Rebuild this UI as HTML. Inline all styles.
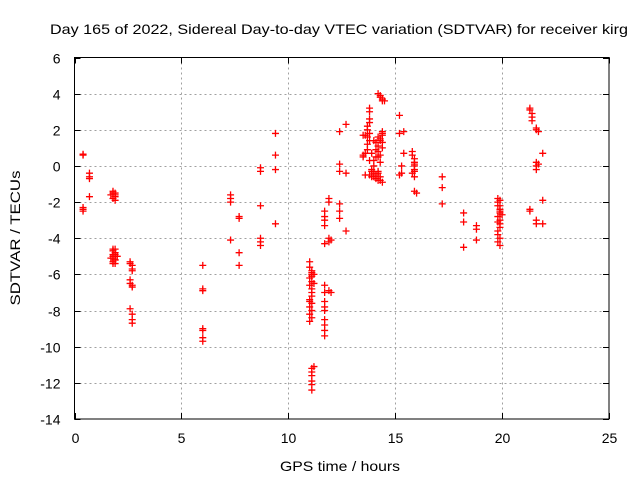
<!DOCTYPE html>
<html><head><meta charset="utf-8"><style>
body{margin:0;background:#fff;}
text{font-family:"Liberation Sans",sans-serif;font-size:14px;fill:#000;}
</style></head><body>
<svg id="chart" width="640" height="480" viewBox="0 0 640 480" xmlns="http://www.w3.org/2000/svg">
<rect width="640" height="480" fill="#fff"/>
<text x="339" y="34" text-anchor="middle" font-size="16.5" textLength="578" lengthAdjust="spacingAndGlyphs">Day 165 of 2022, Sidereal Day-to-day VTEC variation (SDTVAR) for receiver kirg</text>
<g id="grid"></g>
<g id="ticks"></g>
<g id="points"></g>
<rect x="74.5" y="57.5" width="534.5" height="361.5" fill="none" stroke="#000" stroke-width="1"/>
<text x="340" y="471" text-anchor="middle" font-size="16.5" textLength="120" lengthAdjust="spacingAndGlyphs">GPS time / hours</text>
<text x="20" y="238" text-anchor="middle" font-size="16.5" textLength="135" lengthAdjust="spacingAndGlyphs" transform="rotate(-90 20 238)">SDTVAR / TECUs</text>
</svg>
<script>
const xTicks=[0,5,10,15,20,25];
const yTicks=[6,4,2,0,-2,-4,-6,-8,-10,-12,-14];
const hours=[0.4,0.4,0.4,0.4,0.4,0.7,0.7,0.7,0.7,
1.8,1.8,1.9,1.9,1.8,1.9,1.7,1.9,1.8,1.8,1.9,1.8,1.9,1.8,1.9,1.8,1.9,1.8,1.9,1.8,1.9,1.8,1.9,1.7,2.0,
2.6,2.6,2.7,2.7,2.7,2.6,2.6,2.7,2.7,2.6,2.7,2.7,2.7,
6.0,6.0,6.0,6.0,6.0,6.0,6.0,
7.3,7.3,7.3,7.3,7.7,7.7,7.7,7.7,
8.7,8.7,8.7,8.7,8.7,8.7,9.4,9.4,9.4,9.4,
11.0,11.0,11.1,11.1,11.0,11.1,11.0,11.1,11.2,11.1,11.2,11.1,11.0,11.1,11.0,11.1,11.0,11.1,11.0,11.1,11.1,11.0,
11.1,11.1,11.1,11.2,11.1,11.1,11.1,
11.7,11.7,11.7,11.7,11.7,11.7,11.7,11.7,11.7,11.7,11.7,11.7,11.7,11.7,
11.9,11.9,11.9,11.9,11.9,12.0,12.0,
12.4,12.4,12.4,12.4,12.4,12.4,12.7,12.7,12.7,
13.5,13.5,13.6,13.6,13.6,13.5,13.7,13.7,13.7,13.7,13.8,13.8,13.8,13.7,13.8,13.8,13.9,13.8,13.8,13.9,13.9,13.8,
14.0,14.0,14.1,14.0,14.1,14.1,14.2,14.2,14.2,14.3,14.3,14.4,14.4,14.4,14.3,14.2,14.1,14.0,13.9,14.0,14.1,14.2,14.3,14.4,14.3,14.2,
14.2,14.3,14.3,14.4,14.4,14.5,14.4,14.3,14.2,14.4,
15.2,15.2,15.4,15.4,15.3,15.2,15.3,
15.8,15.8,15.9,15.9,15.9,15.9,15.8,15.9,15.9,16.0,15.9,15.9,
17.2,17.2,17.2,18.2,18.2,18.2,18.8,18.8,18.8,
19.8,19.8,19.9,19.9,19.9,19.8,19.9,19.9,20.0,19.9,19.8,19.8,19.9,19.8,19.9,19.8,19.9,19.9,19.8,
21.3,21.3,21.4,21.4,21.4,21.6,21.6,21.7,21.6,21.6,21.6,21.7,21.9,21.9,21.3,21.3,21.6,21.6,21.9];
const values=[0.6,0.65,-2.3,-2.4,-2.5,-0.4,-0.6,-0.7,-1.7,
-1.4,-1.5,-1.6,-1.7,-1.8,-1.9,-1.6,-1.5,-4.6,-4.7,-4.8,-4.9,-5.0,-5.1,-5.2,-5.3,-5.4,-4.7,-4.9,-5.0,-5.2,-5.4,-4.6,-5.1,-5.0,
-5.3,-5.4,-5.5,-5.7,-5.8,-6.3,-6.5,-6.6,-6.7,-7.9,-8.2,-8.5,-8.7,
-5.5,-6.8,-6.9,-9.0,-9.1,-9.5,-9.7,
-1.6,-1.8,-2.0,-4.1,-2.8,-2.9,-4.8,-5.5,
-0.3,-0.1,-2.2,-4.0,-4.2,-4.4,1.8,0.6,-0.2,-3.2,
-5.3,-5.6,-5.8,-6.0,-6.2,-6.4,-6.6,-6.8,-6.0,-7.0,-6.5,-7.2,-7.4,-7.6,-7.8,-8.0,-8.2,-8.4,-8.6,-5.9,-6.1,-7.5,
-11.2,-11.4,-11.6,-11.1,-11.9,-12.1,-12.4,
-2.5,-2.8,-3.0,-3.3,-4.3,-6.6,-7.0,-7.5,-7.8,-8.0,-8.5,-8.8,-9.1,-9.4,
-1.8,-2.0,-4.0,-4.2,-6.9,-7.0,-4.1,
0.1,-0.3,-2.1,-2.5,-2.9,1.9,2.3,-0.4,-3.6,
1.7,0.5,0.7,1.7,-0.5,0.6,1.2,1.6,2.0,2.2,2.4,2.6,3.0,0.9,1.8,0.3,-0.3,-0.5,1.4,0.7,-0.6,3.2,
1.4,0.0,0.5,-0.4,0.9,1.3,0.8,1.1,1.6,1.5,0.6,1.8,1.3,1.0,0.2,-0.3,-0.7,-0.6,-0.2,0.3,-0.5,-0.8,-0.8,-0.9,-0.6,-0.4,
4.0,3.9,3.8,3.7,3.6,3.6,1.9,1.4,0.5,1.7,
2.8,1.8,1.9,0.7,-0.4,-0.5,0.0,
0.8,0.6,0.4,0.2,0.0,-0.2,-0.4,-0.6,-1.4,-1.5,0.1,-0.3,
-0.6,-1.2,-2.1,-2.6,-3.1,-4.5,-3.3,-3.5,-4.1,
-1.8,-2.0,-2.2,-2.4,-2.6,-2.8,-3.0,-3.2,-2.7,-3.4,-3.6,-3.8,-4.0,-4.2,-4.4,-2.2,-1.9,-2.5,-3.1,
3.2,3.1,2.9,2.7,2.5,2.1,2.0,1.9,0.2,0.0,-0.2,0.1,0.7,-1.9,-2.4,-2.5,-3.0,-3.2,-3.2];
const NS="http://www.w3.org/2000/svg";
const X0=74.5,X1=609,Y0=57.5,Y1=419;
function sx(h){return X0+(h-0)/(25-0)*(X1-X0);}
function sy(v){return Y0+(6-v)/(6-(-14))*(Y1-Y0);}
const grid=document.getElementById('grid'),ticks=document.getElementById('ticks'),pts=document.getElementById('points');
function line(p,x1,y1,x2,y2,st,da){const l=document.createElementNS(NS,'line');l.setAttribute('x1',x1);l.setAttribute('y1',y1);l.setAttribute('x2',x2);l.setAttribute('y2',y2);l.setAttribute('stroke',st);l.setAttribute('stroke-width',1);if(da)l.setAttribute('stroke-dasharray',da);p.appendChild(l);return l;}
xTicks.forEach(t=>{const x=Math.round(sx(t))+0.5;
 if(t>0&&t<25){const g=line(grid,x,Y0,x,Y1,'#a0a0a0','2,3');}
 line(ticks,x,Y1,x,Y1-6,'#000');line(ticks,x,Y0,x,Y0+6,'#000');
 const tx=document.createElementNS(NS,'text');tx.setAttribute('x',x);tx.setAttribute('y',Y1+24);tx.setAttribute('text-anchor','middle');tx.textContent=t;
 
 
 ticks.appendChild(tx);});
yTicks.forEach(t=>{const y=Math.round(sy(t))+0.5;
 if(t<6&&t>-14){const g=line(grid,X0,y,X1,y,'#a0a0a0','2,3');}
 line(ticks,X0,y,X0+6,y,'#000');line(ticks,X1,y,X1-6,y,'#000');
 const tx=document.createElementNS(NS,'text');tx.setAttribute('x',X0-14);tx.setAttribute('y',y+5);tx.setAttribute('text-anchor','end');tx.textContent=t;
 
 
 ticks.appendChild(tx);});
for(let i=0;i<hours.length;i++){const x=sx(hours[i]),y=sy(values[i]);
 const p=document.createElementNS(NS,'path');p.setAttribute('d',`M${x-3.5},${y}H${x+3.5}M${x},${y-3.5}V${y+3.5}`);p.setAttribute('stroke','#f00');p.setAttribute('stroke-width','1.3');
 
 
 pts.appendChild(p);}
</script>
</body></html>
